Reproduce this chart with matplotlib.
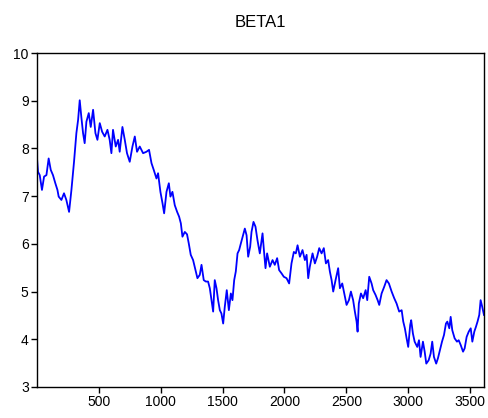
"""BETA1 序列折线图 (EViews 风格)."""
import matplotlib

matplotlib.use("Agg")
import matplotlib.pyplot as plt

obs = [
    1, 9, 23, 41, 58, 77, 95, 112, 130, 149, 166, 176, 198, 219, 238, 260,
    279, 300, 319, 333, 346, 359, 373, 386, 400, 419, 435, 454, 473, 489,
    508, 527, 548, 570, 588, 602, 615, 637, 656, 669, 691, 710, 728, 750,
    772, 791, 809, 831, 858, 885, 906, 926, 944, 966, 979, 998, 1015, 1028,
    1047, 1066, 1079, 1095, 1114, 1133, 1149, 1163, 1176, 1195, 1213, 1227,
    1243, 1262, 1281, 1297, 1316, 1330, 1348, 1365, 1383, 1397, 1411, 1424,
    1437, 1451, 1464, 1478, 1491, 1505, 1518, 1534, 1551, 1567, 1580, 1594,
    1607, 1621, 1634, 1648, 1666, 1680, 1694, 1707, 1723, 1734, 1750, 1766,
    1782, 1801, 1823, 1834, 1847, 1860, 1882, 1904, 1922, 1941, 1957, 1977,
    1995, 2017, 2038, 2057, 2076, 2092, 2106, 2125, 2146, 2165, 2179, 2192,
    2205, 2227, 2246, 2264, 2281, 2300, 2318, 2335, 2353, 2367, 2381, 2394,
    2413, 2434, 2448, 2467, 2483, 2502, 2521, 2537, 2555, 2569, 2583, 2591,
    2601, 2618, 2636, 2656, 2669, 2685, 2704, 2717, 2736, 2753, 2766, 2785,
    2806, 2825, 2844, 2866, 2887, 2906, 2927, 2947, 2960, 2973, 2987, 3000,
    3016, 3024, 3038, 3052, 3073, 3087, 3100, 3119, 3133, 3146, 3165, 3181,
    3194, 3208, 3226, 3240, 3256, 3273, 3289, 3305, 3316, 3332, 3343, 3356,
    3375, 3394, 3408, 3424, 3443, 3456, 3472, 3489, 3505, 3518, 3534, 3547,
    3560, 3574, 3585, 3598, 3612,
]

# BETA1 数值
beta1 = [
    7.79, 7.51, 7.44, 7.13, 7.41, 7.44, 7.79, 7.55, 7.44, 7.27, 7.13, 6.99,
    6.92, 7.06, 6.92, 6.67, 7.13, 7.72, 8.32, 8.60, 9.01, 8.66, 8.32, 8.11,
    8.56, 8.74, 8.45, 8.81, 8.32, 8.18, 8.53, 8.35, 8.25, 8.39, 8.18, 7.90,
    8.39, 8.04, 8.18, 7.93, 8.45, 8.18, 7.90, 7.72, 8.04, 8.25, 7.93, 8.04,
    7.90, 7.93, 7.97, 7.69, 7.55, 7.37, 7.48, 7.09, 6.85, 6.64, 7.09, 7.27,
    6.99, 7.09, 6.81, 6.67, 6.57, 6.43, 6.15, 6.25, 6.20, 6.01, 5.77, 5.66,
    5.45, 5.28, 5.35, 5.56, 5.24, 5.21, 5.21, 5.07, 4.82, 4.58, 5.24, 5.07,
    4.82, 4.61, 4.54, 4.33, 4.68, 5.03, 4.61, 4.96, 4.82, 5.24, 5.42, 5.80,
    5.87, 6.01, 6.18, 6.32, 6.18, 5.73, 5.94, 6.25, 6.46, 6.36, 6.08, 5.80,
    6.22, 5.87, 5.49, 5.80, 5.52, 5.66, 5.56, 5.70, 5.45, 5.38, 5.31, 5.28,
    5.17, 5.59, 5.83, 5.80, 5.97, 5.73, 5.87, 5.66, 5.77, 5.28, 5.52, 5.80,
    5.59, 5.73, 5.91, 5.80, 5.91, 5.59, 5.66, 5.42, 5.24, 5.00, 5.24, 5.49,
    5.07, 5.17, 4.96, 4.72, 4.82, 5.00, 4.82, 4.58, 4.37, 4.16, 4.75, 4.96,
    4.86, 5.03, 4.82, 5.31, 5.17, 5.03, 4.93, 4.82, 4.72, 4.96, 5.10, 5.24,
    5.17, 5.00, 4.86, 4.75, 4.58, 4.61, 4.37, 4.23, 4.02, 3.84, 4.30, 4.40,
    4.12, 3.95, 3.84, 3.98, 3.63, 3.95, 3.74, 3.49, 3.56, 3.70, 3.95, 3.63,
    3.49, 3.60, 3.77, 3.95, 4.09, 4.33, 4.37, 4.23, 4.47, 4.19, 4.02, 3.95,
    3.98, 3.88, 3.74, 3.81, 4.05, 4.16, 4.23, 3.95, 4.16, 4.26, 4.37, 4.51,
    4.82, 4.68, 4.51,
]

x_ticks = [500, 1000, 1500, 2000, 2500, 3000, 3500]
y_ticks = [3, 4, 5, 6, 7, 8, 9, 10]


def main() -> None:
    plt.rcParams["font.family"] = ["Liberation Sans", "DejaVu Sans"]

    fig = plt.figure(figsize=(4.89, 4.18), dpi=100)
    ax = fig.add_axes([0.0757, 0.0742, 0.914, 0.799])

    ax.plot(obs, beta1, color="#0000FF", linewidth=1.3)

    ax.set_xlim(1, 3612)
    ax.set_ylim(3, 10)
    ax.set_xticks(x_ticks)
    ax.set_yticks(y_ticks)

    # 刻度朝外, 只在左侧和底部
    ax.tick_params(axis="both", direction="out", length=4, width=1,
                   labelsize=10, pad=2, colors="black")
    ax.tick_params(top=False, right=False)
    for spine in ax.spines.values():
        spine.set_linewidth(1)
        spine.set_color("black")

    ax.set_title("BETA1", fontsize=12, pad=19)

    fig.savefig("out.png", dpi=100)


if __name__ == "__main__":
    main()
